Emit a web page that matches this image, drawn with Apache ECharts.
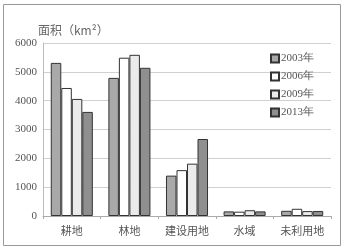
<!DOCTYPE html>
<html><head><meta charset="utf-8">
<script src="https://cdn.jsdelivr.net/npm/echarts@6/dist/echarts.min.js"></script>
<style>html,body{margin:0;padding:0;background:#fff}#c{width:345px;height:248px}</style>
</head><body><div id="c"></div>
<script>
var categories = ['耕地','林地','建设用地','水域','未利用地'];
var seriesNames = ['2003年','2006年','2009年','2013年'];
var v2003 = [5310, 4790, 1400, 160, 180];
var v2006 = [4440, 5490, 1590, 150, 250];
var v2009 = [4060, 5590, 1815, 200, 170];
var v2013 = [3610, 5140, 2670, 160, 175];
var yTicks = [0, 1000, 2000, 3000, 4000, 5000, 6000];

var colors = ['#a9a9a9', '#ffffff', '#ebebeb', '#8f8f8f'];
var values = [v2003, v2006, v2009, v2013];
var serif = '"Liberation Serif","DejaVu Serif",serif';
var chart = echarts.init(document.getElementById('c'));
chart.setOption({
  animation: false,
  graphic: [{type:'rect', shape:{x:3.5,y:4.5,width:337,height:241}, style:{fill:'none', stroke:'#999', lineWidth:1}, z:-1}],
  title: {text: '面积（km²）', left: 33, top: 19, textStyle:{fontSize:12, fontWeight:'normal', color:'#666', fontFamily:'"Noto Sans CJK SC",sans-serif'}},
  legend: {orient:'vertical', right: 26, top: 48, itemWidth: 8, itemHeight: 8, itemGap: 7, icon: 'rect',
    data: seriesNames,
    textStyle:{fontSize:11, color:'#555', fontFamily:serif, padding:[0,0,0,-3]}},
  grid: {left: 43, right: 14, top: 43, bottom: 32},
  xAxis: {type:'category', data: categories,
    axisLine:{lineStyle:{color:'#aaa'}}, axisTick:{show:true, alignWithLabel:false, lineStyle:{color:'#aaa'}, length:3},
    axisLabel:{fontSize:11, color:'#555', margin:9, fontFamily:'"Noto Sans CJK SC",sans-serif'}},
  yAxis: {type:'value', min:0, max:6000, interval:1000,
    axisLine:{show:true, lineStyle:{color:'#bbb'}}, axisTick:{show:false},
    splitLine:{lineStyle:{color:'#d0d0d0'}},
    axisLabel:{fontSize:11, color:'#555', margin:6, fontFamily:serif,
      formatter: function(v){ return yTicks.indexOf(v) >= 0 ? String(v) : ''; }}},
  series: seriesNames.map(function(n, i){
    return {name:n, type:'bar', data: values[i], barGap:'0%', barCategoryGap:'27%',
      itemStyle:{color: colors[i], borderColor:'#333', borderWidth:1}};
  })
});
</script></body></html>
